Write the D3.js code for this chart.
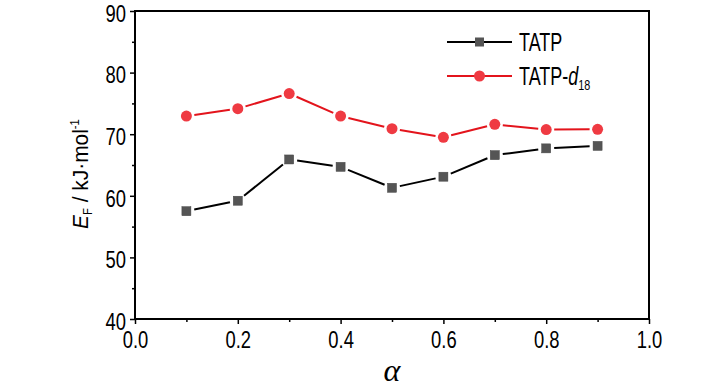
<!DOCTYPE html>
<html><head><meta charset="utf-8">
<script src="https://cdn.jsdelivr.net/npm/d3@7"></script>
<style>body{margin:0;background:#fff}svg{display:block}</style>
</head><body>
<script>
const alphaValues = [0.1,0.2,0.3,0.4,0.5,0.6,0.7,0.8,0.9];
const tatp = [57.5,59.2,65.9,64.7,61.3,63.1,66.6,67.7,68.1];
const tatpD18 = [72.95,74.15,76.6,72.95,70.9,69.5,71.6,70.75,70.8];
const xTicks = [0,0.2,0.4,0.6,0.8,1.0];
const yTicks = [40,50,60,70,80,90];

const W=728,H=390;
const m={l:135,r:79,t:11,b:71};
const font='"Liberation Sans",Arial,sans-serif';
const SX=0.8;
const svg=d3.select("body").append("svg").attr("width",W).attr("height",H);
const x=d3.scaleLinear().domain([0,1]).range([m.l,W-m.r]);
const y=d3.scaleLinear().domain([40,90]).range([H-m.b,m.t]);

svg.append("rect").attr("x",x(0)).attr("y",y(90)).attr("width",x(1)-x(0)).attr("height",y(40)-y(90))
  .attr("fill","none").attr("stroke","#000").attr("stroke-width",2);

const xAxis=svg.append("g").attr("transform",`translate(0,${y(40)})`)
  .call(d3.axisBottom(x).tickValues(xTicks).tickFormat(d3.format(".1f")).tickSize(5).tickPadding(6));
const xMinor=svg.append("g").attr("transform",`translate(0,${y(40)})`)
  .call(d3.axisBottom(x).tickValues(d3.range(0.1,1,0.2)).tickFormat("").tickSize(3));
const yAxis=svg.append("g").attr("transform",`translate(${x(0)},0)`)
  .call(d3.axisLeft(y).tickValues(yTicks).tickFormat(d3.format("d")).tickSize(5).tickPadding(3));
const yMinor=svg.append("g").attr("transform",`translate(${x(0)},0)`)
  .call(d3.axisLeft(y).tickValues(d3.range(45,90,10)).tickFormat("").tickSize(3));
[xAxis,xMinor,yAxis,yMinor].forEach(g=>{
  g.select(".domain").remove();
  g.selectAll(".tick line").attr("stroke","#000").attr("stroke-width",1.5);
  g.selectAll("text").attr("font-family",font).attr("font-size",23).attr("fill","#000");
});
xAxis.selectAll("text").attr("transform",`scale(${SX},1)`).attr("dy","0.78em");
yAxis.selectAll("text").attr("dy","0.45em").attr("x",-9/SX).attr("transform",`scale(${SX},1)`);

function drawSeries(vals,lineColor,markerType,fill,gap){
  const pts=alphaValues.map((a,i)=>[x(a),y(vals[i])]);
  const g=svg.append("g");
  for(let i=0;i<pts.length-1;i++){
    const [x1,y1]=pts[i],[x2,y2]=pts[i+1];
    const dx=x2-x1,dy=y2-y1,L=Math.hypot(dx,dy);
    const ux=dx/L,uy=dy/L;
    g.append("line").attr("x1",x1+ux*gap).attr("y1",y1+uy*gap)
      .attr("x2",x2-ux*gap).attr("y2",y2-uy*gap)
      .attr("stroke",lineColor).attr("stroke-width",2);
  }
  pts.forEach(p=>{
    if(markerType==="square"){
      g.append("rect").attr("x",p[0]-4.5).attr("y",p[1]-4.5).attr("width",9).attr("height",9)
        .attr("fill",fill).attr("stroke","#444").attr("stroke-width",0.5);
    } else {
      g.append("circle").attr("cx",p[0]).attr("cy",p[1]).attr("r",5.5).attr("fill",fill);
    }
  });
}
drawSeries(tatp,"#000","square","#555",8);
drawSeries(tatpD18,"#e3141c","circle","#ef3a42",8);

const lg=svg.append("g");
const legendItems=[{c:"#000",t:"square",f:"#555",yy:42},{c:"#e3141c",t:"circle",f:"#ef3a42",yy:76}];
legendItems.forEach(d=>{
  lg.append("line").attr("x1",447).attr("x2",512).attr("y1",d.yy).attr("y2",d.yy).attr("stroke",d.c).attr("stroke-width",2);
  if(d.t==="square") lg.append("rect").attr("x",479.5-4.5).attr("y",d.yy-4.5).attr("width",9).attr("height",9).attr("fill",d.f);
  else lg.append("circle").attr("cx",479.5).attr("cy",d.yy).attr("r",5.5).attr("fill",d.f);
});
const LSX=0.72;
lg.append("text").attr("transform",`translate(519,51) scale(${LSX},1)`).attr("font-family",font).attr("font-size",25).attr("fill","#000").text("TATP");
const t2=lg.append("text").attr("transform",`translate(519,85) scale(${LSX},1)`).attr("font-family",font).attr("font-size",25).attr("fill","#000");
t2.append("tspan").text("TATP-");
t2.append("tspan").attr("font-style","italic").text("d");
t2.append("tspan").attr("font-size",15).attr("dy",5).text("18");

const yl=svg.append("text").attr("transform",`translate(88,174) rotate(-90) scale(0.95,1)`)
  .attr("text-anchor","middle").attr("font-family",font).attr("font-size",22).attr("fill","#000");
yl.append("tspan").attr("font-style","italic").text("E");
yl.append("tspan").attr("font-size",12).attr("dy",4).text("F");
yl.append("tspan").attr("dy",-4).text(" / kJ\u00b7mol");
yl.append("tspan").attr("font-size",12).attr("dy",-9).text("-1");

svg.append("text").attr("x",(x(0)+x(1))/2).attr("y",381).attr("text-anchor","middle")
  .attr("font-family",'"Liberation Serif","Times New Roman",serif').attr("font-style","italic")
  .attr("font-size",32).attr("fill","#000").text("\u03b1");
</script>
</body></html>
